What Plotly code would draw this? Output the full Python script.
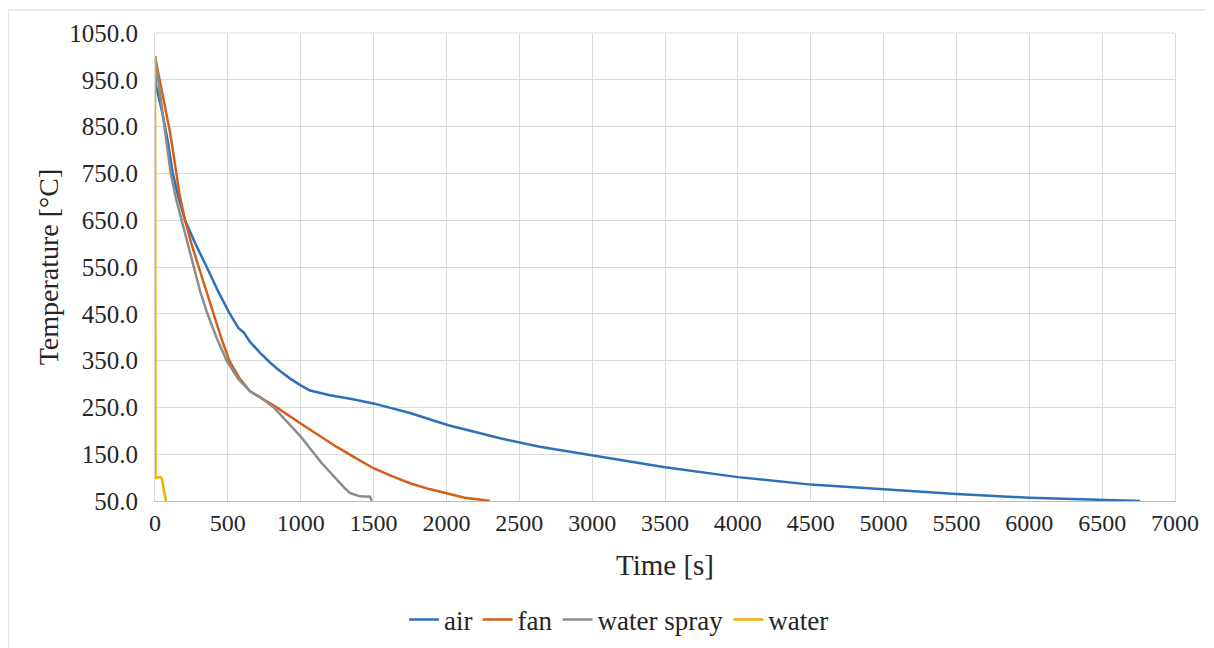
import plotly.graph_objects as go

# ---- data ----
air_t = [0, 5, 50, 90, 121, 160, 206, 280, 355, 430, 510, 572, 610, 640, 652, 720, 789, 858, 930,
         1000, 1064, 1200, 1350, 1505, 1750, 2013, 2368, 2640, 3000, 3500, 4000, 4500, 5000,
         5500, 6000, 6500, 6760]
air_T = [1000, 940, 880, 815, 752, 700, 650, 598, 550, 500, 452, 420, 410, 397, 390, 367, 346, 328, 311,
         297, 286, 276, 268, 258, 238, 212, 184, 166, 147, 122, 101, 85, 75,
         65, 57, 51.5, 50]

fan_t = [0, 46, 100, 120, 140, 170, 206, 250, 300, 350, 400, 455, 510, 580, 652, 740, 835, 1002, 1125,
         1250, 1375, 1500, 1625, 1750, 1875, 2000, 2125, 2253, 2300]
fan_T = [1000, 930, 843, 805, 765, 702, 650, 600, 550, 500, 450, 398, 350, 312, 284.5, 268, 250, 215, 190,
         165, 142, 120, 103, 88, 76, 66, 57, 52, 50]

spray_t = [0, 30, 80, 108, 145, 183, 222, 264, 310, 360, 425, 492, 570, 652, 730, 812, 900, 1002,
           1070, 1144, 1200, 1247, 1300, 1338, 1407, 1476, 1487]
spray_T = [1000, 932, 815, 750, 695, 650, 598, 550, 498, 450, 397, 350, 311, 284.5, 270, 251, 222, 187,
           160, 131, 112, 95.5, 78, 67, 60, 59, 50]

water_t = [0, 4, 8, 40, 47, 75]
water_T = [1000, 97, 101, 101, 97, 50]

series = [
    ("air", air_t, air_T, "#2F70B8"),
    ("fan", fan_t, fan_T, "#D2601A"),
    ("water spray", spray_t, spray_T, "#8C8C8C"),
    ("water", water_t, water_T, "#F2B000"),
]

y_ticks = [50 + 100 * i for i in range(11)]
x_ticks = [500 * i for i in range(15)]

FONT = "Liberation Serif, Times New Roman, Tinos, serif"
TXT = "#262626"

fig = go.Figure()
for name, t, T, c in series:
    fig.add_trace(go.Scatter(x=t, y=T, mode="lines", name=name,
                             line=dict(color=c, width=2.5)))

fig.update_layout(
    width=1214, height=648,
    margin=dict(l=147, r=47, t=21, b=154),
    paper_bgcolor="white", plot_bgcolor="white",
    font=dict(family=FONT, color=TXT, size=23),
    showlegend=True,
    legend=dict(orientation="h", x=0.455, xanchor="center", y=-0.254, yanchor="middle",
                font=dict(size=27, family=FONT, color=TXT), itemwidth=30),
    xaxis=dict(range=[0, 7000], tickvals=x_ticks, ticktext=[str(v) for v in x_ticks],
               showgrid=True, gridcolor="#d9d9d9", gridwidth=1,
               showline=True, linecolor="#bfbfbf", linewidth=1,
               zeroline=False, ticks="", ticklabelstandoff=0,
               tickfont=dict(size=24, family=FONT, color=TXT),
               title=dict(text="Time [s]", font=dict(size=29, family=FONT, color=TXT), standoff=19)),
    yaxis=dict(range=[50, 1050], tickvals=y_ticks, ticktext=[f"{v:.1f}" for v in y_ticks],
               showgrid=True, gridcolor="#d9d9d9", gridwidth=1,
               showline=True, linecolor="#d9d9d9", linewidth=1, mirror=True,
               zeroline=False, ticks="", ticklabelstandoff=11,
               tickfont=dict(size=25, family=FONT, color=TXT),
               title=dict(text="Temperature [°C]", font=dict(size=28, family=FONT, color=TXT), standoff=2)),
    shapes=[
        dict(type="rect", xref="paper", yref="paper", x0=-0.144, x1=1.06, y0=-0.34, y1=1.049,
             line=dict(color="#d9d9d9", width=1), fillcolor="rgba(0,0,0,0)", layer="below"),
        dict(type="line", xref="paper", yref="paper", x0=0, x1=1, y0=1, y1=1,
             line=dict(color="#d9d9d9", width=1), layer="below"),
    ],
)

fig.write_html("out.html")
